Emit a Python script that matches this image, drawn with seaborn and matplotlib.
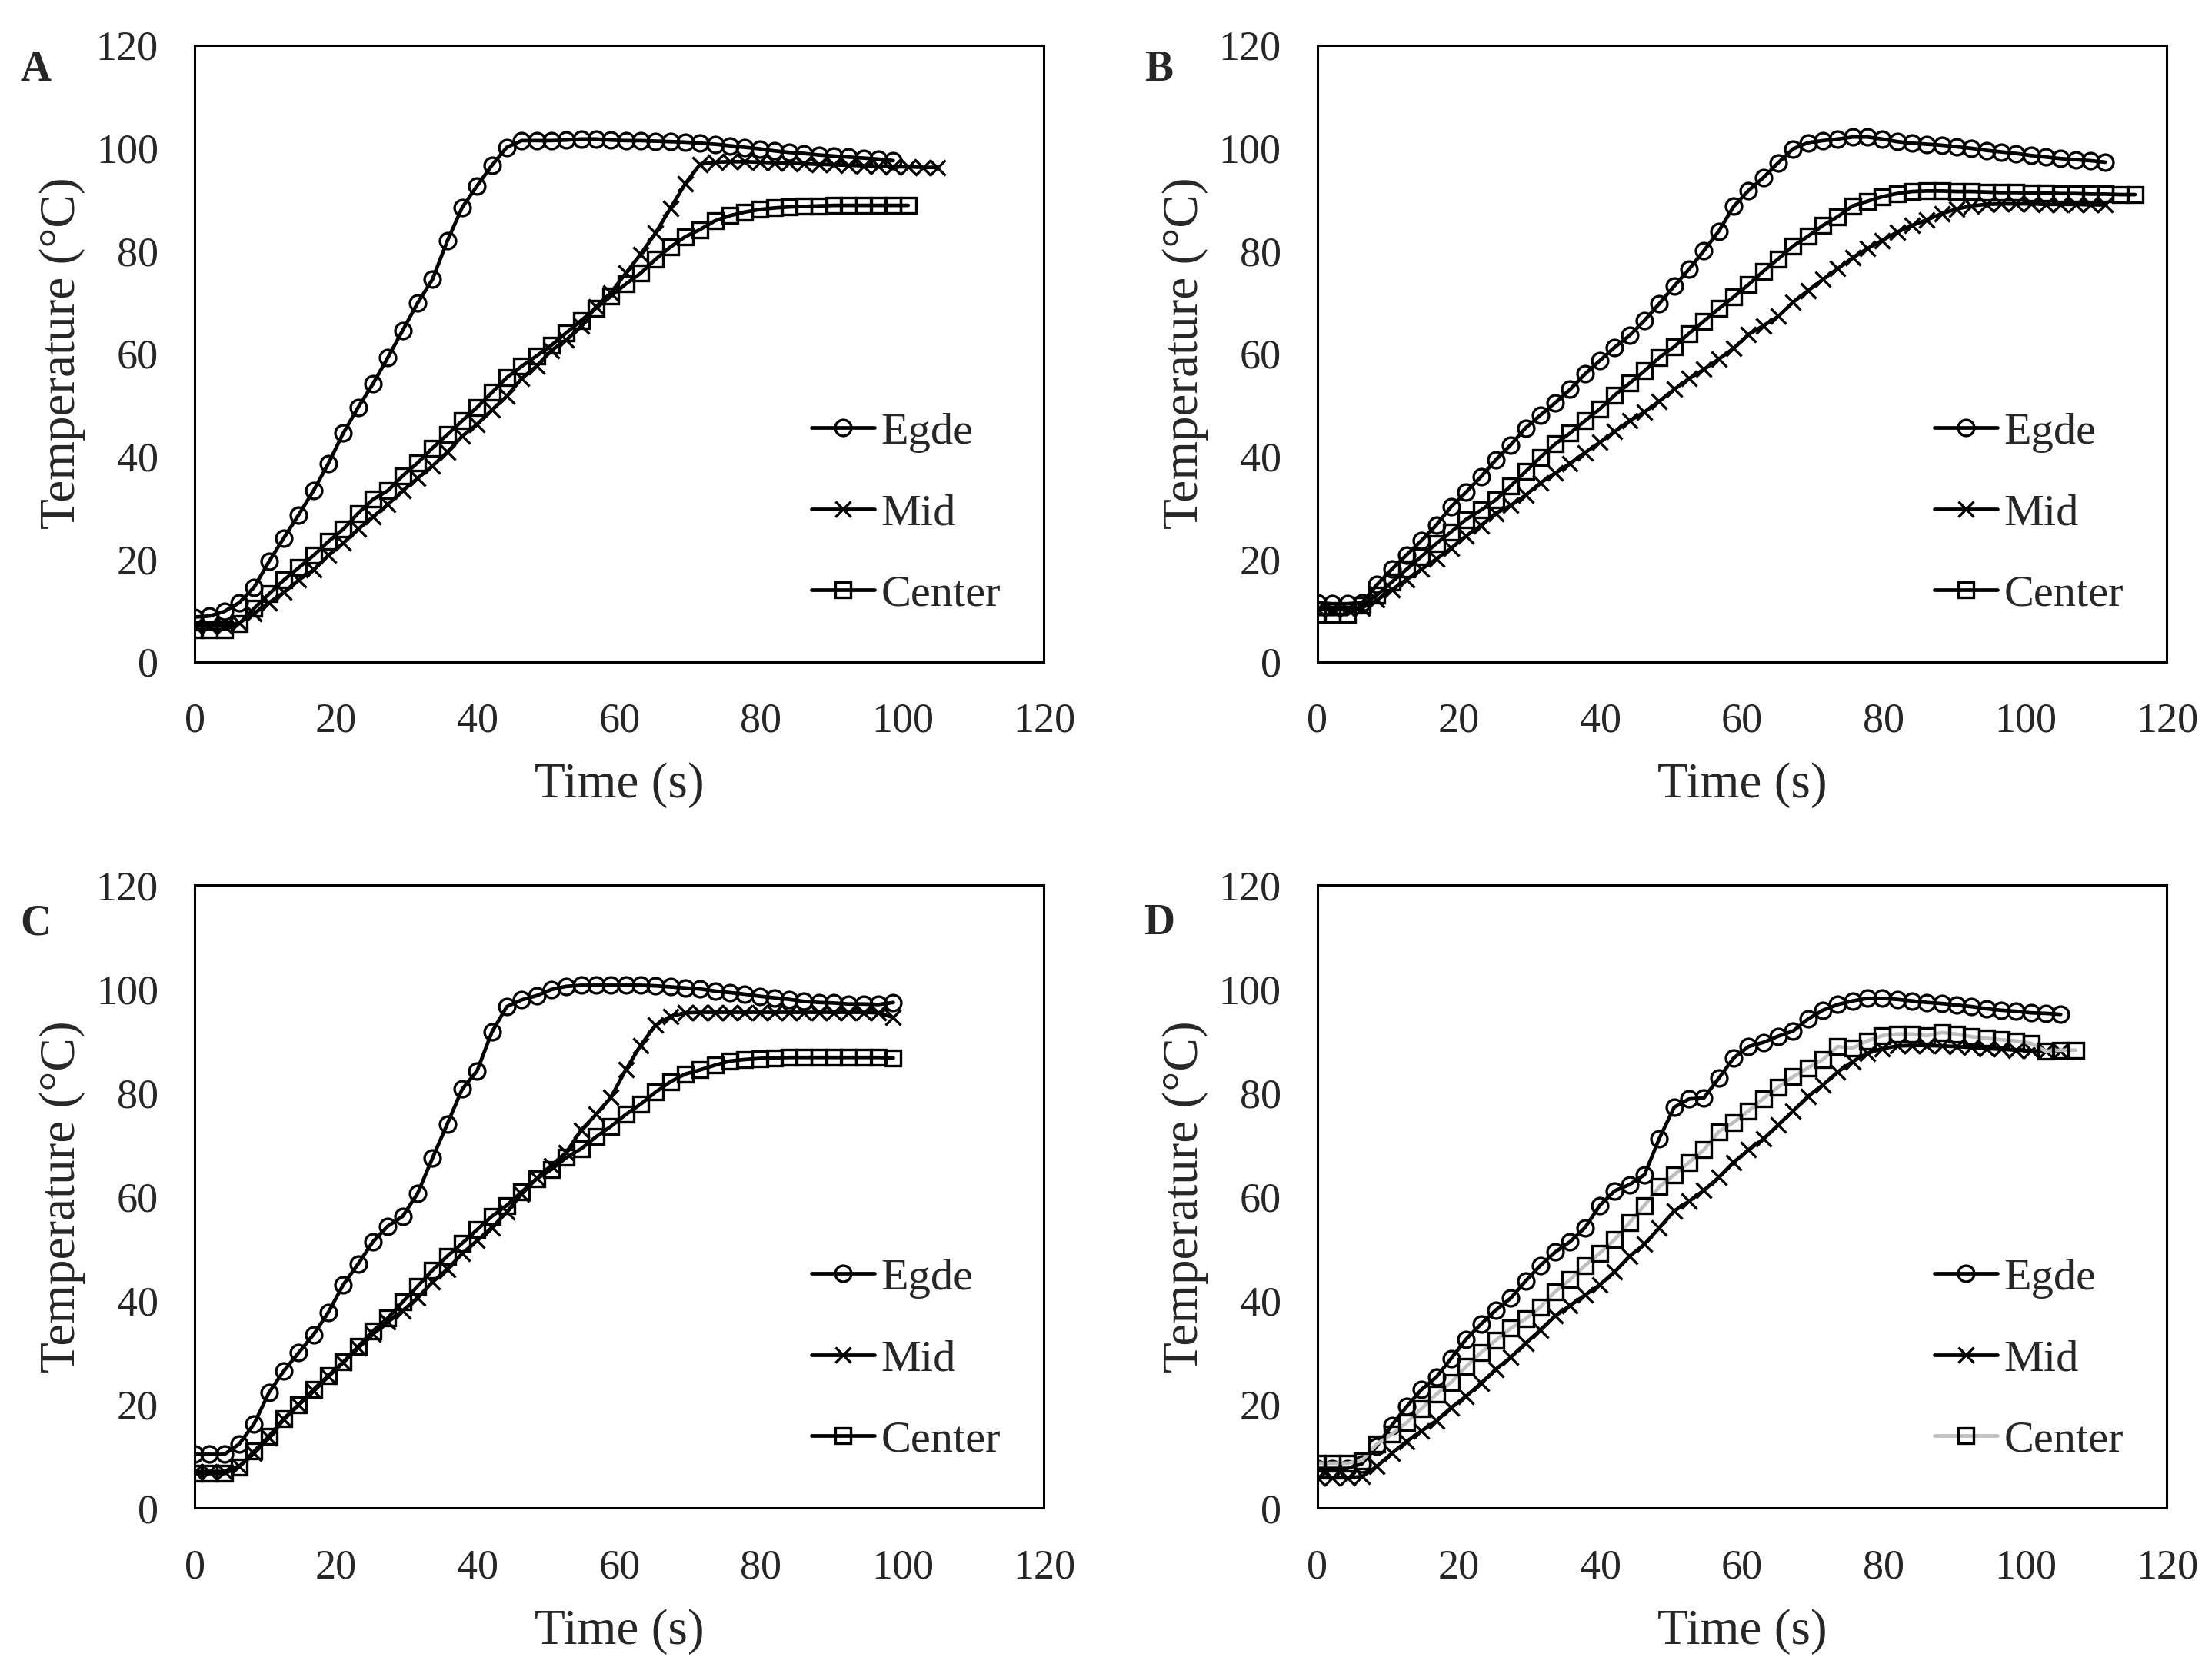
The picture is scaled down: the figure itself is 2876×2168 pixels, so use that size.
import matplotlib
matplotlib.use("Agg")
import matplotlib.pyplot as plt
import seaborn as sns

# sampling times (s), shared by all series; each series uses the first len(values) entries
time_s = [0.0, 2.1, 4.2, 6.3, 8.4, 10.5, 12.6, 14.7, 16.8, 18.9, 21.0, 23.1, 25.2, 27.3,
          29.4, 31.5, 33.6, 35.7, 37.8, 39.9, 42.0, 44.1, 46.2, 48.3, 50.4, 52.5, 54.6,
          56.7, 58.8, 60.9, 63.0, 65.1, 67.2, 69.3, 71.4, 73.5, 75.6, 77.7, 79.8, 81.9,
          84.0, 86.1, 88.2, 90.3, 92.4, 94.5, 96.6, 98.7, 100.8, 102.9, 105.0, 107.1,
          109.2, 111.3, 113.4, 115.5]

# Panel A
a_edge = [8.7, 8.9, 9.8, 11.5, 14.5, 19.5, 24.1, 28.6, 33.3, 38.6, 44.5, 49.5, 54.1, 59.2,
          64.5, 69.8, 74.4, 81.9, 88.4, 92.6, 96.6, 100.1, 101.4, 101.4, 101.4, 101.5, 101.7,
          101.7, 101.5, 101.4, 101.4, 101.3, 101.2, 101.1, 100.9, 100.7, 100.4, 100.1, 99.8,
          99.4, 99.1, 98.9, 98.6, 98.4, 98.2, 98.0, 97.8, 97.5]
a_mid = [7.0, 7.0, 7.0, 7.6, 9.4, 11.5, 13.5, 15.9, 17.9, 20.7, 23.1, 25.8, 28.2, 30.6, 33.3,
         35.7, 38.1, 40.8, 43.9, 46.2, 49.0, 51.7, 55.1, 57.5, 60.6, 62.6, 65.3, 69.1, 71.8,
         75.6, 79.3, 83.4, 88.2, 93.0, 96.8, 97.2, 97.3, 97.3, 97.2, 97.1, 97.0, 96.9, 96.8,
         96.7, 96.6, 96.5, 96.4, 96.3, 96.3, 96.2, 96.2]
a_center = [6.3, 6.3, 6.3, 7.4, 10.4, 13.2, 15.9, 18.3, 20.7, 23.4, 25.8, 28.9, 31.6, 33.3,
            36.2, 38.7, 41.6, 44.2, 46.9, 49.5, 52.4, 55.3, 57.5, 59.5, 61.6, 64.0, 66.4, 68.8,
            71.1, 73.5, 75.6, 78.3, 80.7, 82.7, 84.1, 85.8, 86.8, 87.5, 88.0, 88.3, 88.5, 88.6,
            88.7, 88.8, 88.8, 88.8, 88.8, 88.8, 88.8]

# Panel B
b_edge = [11.5, 11.3, 11.3, 11.5, 15.0, 18.0, 20.8, 23.6, 26.6, 30.2, 33.0, 36.0, 39.3, 42.2,
          45.5, 48.0, 50.4, 53.0, 56.0, 58.6, 61.2, 63.5, 66.4, 69.7, 73.1, 76.4, 80.0, 83.8,
          88.6, 91.7, 94.2, 97.1, 99.8, 101.0, 101.4, 101.7, 102.1, 102.1, 101.7, 101.2, 100.9,
          100.7, 100.5, 100.2, 99.9, 99.5, 99.2, 98.9, 98.5, 98.2, 97.9, 97.7, 97.5, 97.2]
b_mid = [10.3, 10.3, 10.3, 10.5, 12.0, 14.0, 16.0, 18.0, 20.0, 22.1, 24.5, 26.5, 28.9, 30.4,
         32.4, 34.8, 36.7, 38.6, 40.7, 42.7, 44.8, 46.9, 48.6, 50.7, 53.0, 55.1, 56.9, 58.9,
         61.0, 63.7, 65.4, 67.2, 70.0, 72.2, 74.4, 76.5, 78.6, 80.4, 82.0, 83.6, 84.9, 86.0,
         87.2, 88.1, 88.7, 89.0, 89.1, 89.1, 89.1, 89.0, 89.0, 89.0, 88.9, 88.9]
b_center = [9.2, 9.2, 9.2, 11.0, 13.0, 15.5, 18.0, 20.5, 23.0, 25.3, 27.7, 29.5, 31.5, 34.2,
            37.0, 39.8, 42.4, 44.5, 46.9, 49.2, 51.9, 54.2, 56.6, 59.2, 61.3, 63.9, 66.3, 68.7,
            71.0, 73.4, 76.0, 78.4, 80.9, 82.8, 84.9, 86.6, 88.7, 89.6, 90.5, 91.1, 91.5, 91.6,
            91.6, 91.5, 91.5, 91.4, 91.3, 91.3, 91.2, 91.2, 91.1, 91.1, 91.0, 91.0, 90.9, 90.9]

# Panel C
c_edge = [10.3, 10.3, 10.3, 12.3, 16.2, 22.2, 26.4, 29.9, 33.4, 37.7, 43.0, 47.0, 51.3, 54.3,
          56.2, 60.6, 67.4, 74.0, 80.7, 84.2, 91.7, 96.6, 97.9, 98.7, 99.9, 100.5, 100.7, 100.7,
          100.7, 100.7, 100.7, 100.6, 100.4, 100.2, 100.0, 99.6, 99.3, 99.0, 98.6, 98.3, 98.0,
          97.6, 97.4, 97.3, 97.1, 97.1, 97.0, 97.4]
c_mid = [7.0, 7.0, 7.0, 8.0, 10.5, 13.5, 17.0, 19.8, 22.5, 25.3, 28.0, 30.8, 33.5, 35.8, 38.0,
         40.5, 43.5, 46.0, 49.0, 51.5, 54.0, 57.0, 60.5, 63.5, 66.0, 68.5, 72.8, 75.8, 79.1,
         84.4, 89.1, 93.0, 94.7, 95.4, 95.5, 95.5, 95.5, 95.5, 95.5, 95.5, 95.5, 95.5, 95.5,
         95.5, 95.5, 95.5, 95.4, 94.5]
c_center = [6.6, 6.6, 6.6, 7.9, 10.9, 13.8, 17.2, 19.9, 22.8, 25.5, 28.1, 31.1, 34.1, 36.6,
            39.7, 42.7, 45.8, 48.5, 51.0, 53.6, 56.2, 58.3, 60.9, 63.4, 65.2, 67.5, 69.2, 71.5,
            73.5, 75.8, 77.8, 80.1, 82.1, 83.6, 84.4, 85.3, 86.1, 86.4, 86.6, 86.7, 86.8, 86.8,
            86.8, 86.8, 86.8, 86.8, 86.8, 86.7]

# Panel D
d_edge = [7.6, 7.6, 7.6, 8.5, 11.9, 15.9, 19.5, 22.8, 25.2, 28.8, 32.5, 35.4, 38.1, 40.4,
          43.7, 46.7, 49.3, 51.3, 54.0, 58.3, 61.1, 62.3, 64.2, 71.2, 77.2, 78.8, 79.0, 82.8,
          86.7, 88.9, 89.7, 90.9, 91.9, 94.2, 95.9, 97.0, 97.7, 98.2, 98.2, 98.0, 97.7, 97.4,
          97.2, 96.9, 96.6, 96.2, 95.9, 95.7, 95.4, 95.3, 95.1]
d_mid = [5.8, 5.8, 5.8, 6.0, 8.0, 10.5, 12.8, 14.8, 16.8, 19.3, 21.5, 24.0, 26.7, 29.0, 31.7,
         34.3, 37.0, 39.0, 41.0, 43.0, 45.5, 48.5, 50.8, 54.0, 57.2, 59.1, 61.2, 63.7, 66.6,
         69.0, 71.1, 73.8, 76.5, 79.3, 81.5, 84.0, 86.0, 87.6, 88.5, 89.0, 89.1, 89.1, 89.0,
         88.9, 88.7, 88.5, 88.4, 88.2, 88.1, 88.0, 88.0]
d_center = [8.6, 8.6, 8.6, 9.1, 12.3, 14.2, 16.4, 19.1, 21.9, 24.2, 27.2, 29.9, 32.3, 34.6,
            36.4, 38.7, 41.7, 44.0, 46.7, 49.1, 51.7, 55.0, 58.3, 61.9, 64.2, 66.6, 69.0, 72.5,
            74.3, 76.5, 78.9, 81.1, 83.1, 84.8, 86.4, 88.9, 88.6, 90.0, 91.0, 91.3, 91.3, 91.0,
            91.6, 91.3, 90.8, 90.5, 90.2, 90.0, 89.5, 88.0, 88.2, 88.2]

panels = ["A", "B", "C", "D"]
series_labels = ["Egde", "Mid", "Center"]
axis_ticks = [0, 20, 40, 60, 80, 100, 120]

sns.set_style("white")
plt.rcParams["font.family"] = ["Liberation Serif", "DejaVu Serif"]


def draw_panel(ax, edge, mid, center, center_line="black"):
    common = dict(ax=ax, linewidth=1.7, markersize=7.5, markeredgewidth=1.2,
                  markerfacecolor="none", markeredgecolor="black", errorbar=None)
    sns.lineplot(x=time_s[:len(edge)], y=edge, color="black", marker="o",
                 label=series_labels[0], **common)
    sns.lineplot(x=time_s[:len(mid)], y=mid, color="black", marker="x",
                 label=series_labels[1], **common)
    sns.lineplot(x=time_s[:len(center)], y=center, color=center_line, marker="s",
                 label=series_labels[2], **common)

    ax.set_xlim(0, 120)
    ax.set_ylim(0, 120)
    ax.set_xticks(axis_ticks)
    ax.set_yticks(axis_ticks)
    ax.tick_params(axis="both", length=0, labelsize=19.5)
    ax.tick_params(axis="x", pad=19)
    ax.tick_params(axis="y", pad=17)
    for sp in ax.spines.values():
        sp.set_color("black")
        sp.set_linewidth(1.1)
    ax.set_xlabel("Time (s)", fontsize=23.5, labelpad=10)
    ax.set_ylabel("Temperature (\u00b0C)", fontsize=23.5, labelpad=5)
    ax.legend(loc="lower left", bbox_to_anchor=(0.70, 0.04), frameon=False,
              borderpad=0, handlelength=1.4, handletextpad=0.15,
              labelspacing=0.9, fontsize=21)


fig = plt.figure(figsize=(14.38, 10.84), dpi=200)
boxes = [
    [0.088, 0.603, 0.384, 0.370],
    [0.5956, 0.603, 0.384, 0.370],
    [0.088, 0.0955, 0.384, 0.3735],
    [0.5956, 0.0955, 0.384, 0.3735],
]
letter_pos = [(0.016, 0.958), (0.524, 0.958), (0.016, 0.446), (0.524, 0.446)]
data = [
    (a_edge, a_mid, a_center, "black"),
    (b_edge, b_mid, b_center, "black"),
    (c_edge, c_mid, c_center, "black"),
    (d_edge, d_mid, d_center, "#bfbfbf"),
]

for box, (e, m, c, col), name, (lx, ly) in zip(boxes, data, panels, letter_pos):
    ax = fig.add_axes(box)
    draw_panel(ax, e, m, c, center_line=col)
    fig.text(lx, ly, name, ha="center", va="center", fontsize=20, fontweight="bold")

fig.savefig("out.png", dpi=200, facecolor="white")
